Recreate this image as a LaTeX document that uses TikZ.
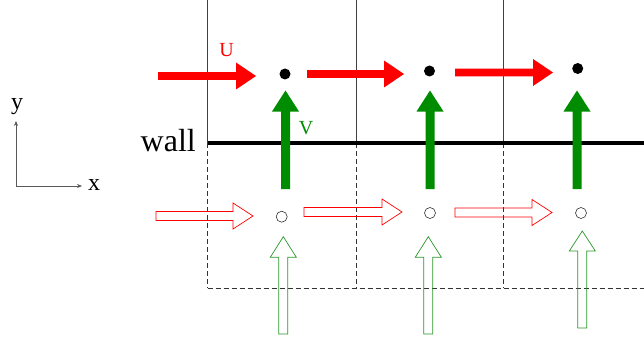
\documentclass[tikz,border=0pt]{standalone}
\usepackage{fontspec}
\setmainfont{Liberation Serif}
\definecolor{ured}{RGB}{255,0,0}
\definecolor{vgreen}{RGB}{0,140,0}
\definecolor{ogreen}{RGB}{40,150,40}
% horizontal arrow polygon: #1 style, #2 x start, #3 x tip, #4 y, #5 shaft half width, #6 head half width, #7 head length
\newcommand\HShape[7]{\path[#1] (#2,#4-#5) -- (#3-#7,#4-#5) -- (#3-#7,#4-#6) -- (#3,#4) -- (#3-#7,#4+#6) -- (#3-#7,#4+#5) -- (#2,#4+#5) -- cycle;}
% vertical arrow polygon: #2 x, #3 y start (bottom), #4 y tip
\newcommand\VShape[7]{\path[#1] (#2-#5,#3) -- (#2-#5,#4+#7) -- (#2-#6,#4+#7) -- (#2,#4) -- (#2+#6,#4+#7) -- (#2+#5,#4+#7) -- (#2+#5,#3) -- cycle;}
\usetikzlibrary{arrows.meta}
\tikzset{
  cellline/.style={draw=black!75, line width=0.6pt},
  celldash/.style={draw=black!80, line width=0.6pt, dash pattern=on 5pt off 3pt},
  wallline/.style={draw=black, line width=4.5pt},
  uarrow/.style={fill=ured},
  varrow/.style={fill=vgreen},
  uopen/.style={draw=ured, line width=0.7pt, line join=miter},
  vopen/.style={draw=ogreen, line width=0.7pt, line join=miter},
  fulldot/.style={circle, fill=black, inner sep=0pt, minimum size=11pt},
  opendot/.style={circle, draw=black!80, line width=0.6pt, inner sep=0pt, minimum size=11pt},
  axisline/.style={draw=black!65, line width=0.7pt, -{Stealth[length=5pt,width=4pt]}},
}
\begin{document}
\begin{tikzpicture}[x=1pt,y=-1pt]
\useasboundingbox (0,0) rectangle (644,342);
% grid
\coordinate (t1) at (207.5,0); \coordinate (w1) at (207.5,143); \coordinate (b1) at (207.5,288);
\coordinate (t2) at (356.5,0); \coordinate (w2) at (356.5,143); \coordinate (b2) at (356.5,288);
\coordinate (t3) at (503.5,0); \coordinate (w3) at (503.5,143); \coordinate (b3) at (503.5,288);
\coordinate (we) at (644,143); \coordinate (be) at (644,288);
\draw[cellline] (t1) -- (w1); \draw[cellline] (t2) -- (w2); \draw[cellline] (t3) -- (w3);
\draw[celldash] (w1) -- (b1); \draw[celldash] (w2) -- (b2); \draw[celldash] (w3) -- (b3);
\draw[celldash] (b1) -- (be);
\draw[wallline] (w1) -- (we);
% filled U arrows
\HShape{uarrow}{158}{256}{76}{3.8}{13.5}{20}
\HShape{uarrow}{307}{404}{74}{3.8}{13.5}{20}
\HShape{uarrow}{455}{553}{72.5}{3.8}{13.5}{20}
% filled V arrows
\VShape{varrow}{285.5}{189}{90.5}{4.5}{13.5}{21}
\VShape{varrow}{430}{189}{90.5}{4.5}{13.5}{21}
\VShape{varrow}{577}{189}{90.5}{4.5}{13.5}{21}
% dots
\node[fulldot] (d1) at (285,74) {};
\node[fulldot] (d2) at (429.5,71) {};
\node[fulldot] (d3) at (577.7,68.5) {};
% open U arrows
\HShape{uopen}{156}{253}{216}{4.5}{13}{20}
\HShape{uopen}{304}{402}{212}{4.5}{13}{20}
\HShape{uopen}{455}{552}{212.5}{4.5}{13}{20}
% open V arrows
\VShape{vopen}{283.3}{334}{236.7}{4.5}{13}{20.5}
\VShape{vopen}{428.3}{334}{236.7}{4.5}{13}{20.5}
\VShape{vopen}{582.3}{328}{231}{4.5}{13}{20}
% open dots
\node[opendot] (c1) at (281.7,216.7) {};
\node[opendot] (c2) at (430,213) {};
\node[opendot] (c3) at (581,213) {};
% labels
\node[text=ured, font=\fontsize{20}{20}\selectfont, inner sep=0pt] (ulab) at (226.7,50.5) {U};
\node[text=vgreen, font=\fontsize{20}{20}\selectfont, inner sep=0pt] (vlab) at (306,128.5) {V};
\node[font=\fontsize{32}{32}\selectfont, inner sep=0pt, anchor=base east] (wall) at (196,151.5) {wall};
% axes
\coordinate (o) at (16,186);
\coordinate (ya) at (16,121);
\coordinate (xa) at (82,186);
\draw[axisline] (o) -- (ya);
\draw[axisline] (o) -- (xa);
\node[font=\fontsize{24}{24}\selectfont, inner sep=0pt, anchor=base] (ylab) at (17,110) {y};
\node[font=\fontsize{24}{24}\selectfont, inner sep=0pt, anchor=base] (xlab) at (94,190.5) {x};
\end{tikzpicture}
\end{document}
